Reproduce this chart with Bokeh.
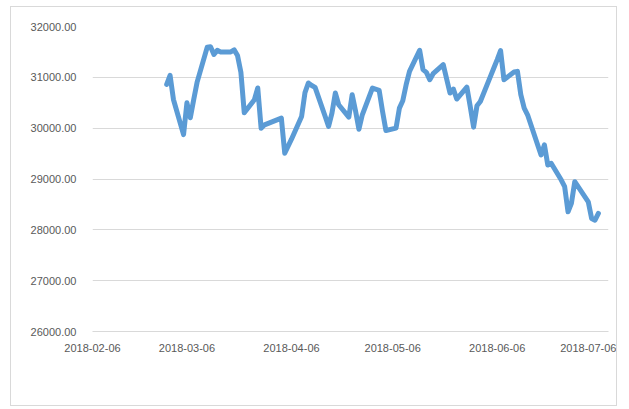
from datetime import datetime
from bokeh.plotting import figure
from bokeh.models import Range1d, FixedTicker, DatetimeTickFormatter, NumeralTickFormatter, ColumnDataSource
from bokeh.embed import file_html
from bokeh.resources import INLINE

dates = [
    "2018-02-28", "2018-03-01", "2018-03-02", "2018-03-05", "2018-03-06", "2018-03-07",
    "2018-03-08", "2018-03-09", "2018-03-12", "2018-03-13", "2018-03-14", "2018-03-15",
    "2018-03-16", "2018-03-19", "2018-03-20", "2018-03-21", "2018-03-22", "2018-03-23",
    "2018-03-26", "2018-03-27", "2018-03-28", "2018-03-29", "2018-04-03", "2018-04-04",
    "2018-04-06", "2018-04-09", "2018-04-10", "2018-04-11", "2018-04-12", "2018-04-13",
    "2018-04-16", "2018-04-17", "2018-04-18", "2018-04-19", "2018-04-20", "2018-04-23",
    "2018-04-24", "2018-04-25", "2018-04-26", "2018-04-27", "2018-04-30", "2018-05-02",
    "2018-05-03", "2018-05-04", "2018-05-07", "2018-05-08", "2018-05-09", "2018-05-10",
    "2018-05-11", "2018-05-14", "2018-05-15", "2018-05-16", "2018-05-17", "2018-05-18",
    "2018-05-21", "2018-05-23", "2018-05-24", "2018-05-25", "2018-05-28", "2018-05-29",
    "2018-05-30", "2018-05-31", "2018-06-01", "2018-06-04", "2018-06-05", "2018-06-06",
    "2018-06-07", "2018-06-08", "2018-06-11", "2018-06-12", "2018-06-13", "2018-06-14",
    "2018-06-15", "2018-06-19", "2018-06-20", "2018-06-21", "2018-06-22", "2018-06-25",
    "2018-06-26", "2018-06-27", "2018-06-28", "2018-06-29", "2018-07-03", "2018-07-04",
    "2018-07-05", "2018-07-06",
]
values = [
    30861, 31039, 30565, 29874, 30500, 30204,
    30560, 30900, 31590, 31600, 31450, 31530,
    31500, 31500, 31540, 31430, 31100, 30302,
    30559, 30790, 30000, 30066, 30197, 29507,
    29783, 30230, 30700, 30889, 30840, 30802,
    30230, 30033, 30296, 30691, 30460, 30217,
    30658, 30336, 29980, 30263, 30790, 30743,
    30329, 29954, 30000, 30395, 30539, 30855,
    31118, 31533, 31151, 31098, 30954, 31072,
    31250, 30691, 30770, 30573, 30809, 30427,
    30020, 30441, 30525, 31019, 31184, 31349,
    31526, 30954, 31105, 31118, 30658, 30395,
    30263, 29473, 29671, 29276, 29309, 28980,
    28848, 28354, 28520, 28947, 28551, 28224,
    28190, 28322,
]
x_ticks = ["2018-02-06", "2018-03-06", "2018-04-06", "2018-05-06", "2018-06-06", "2018-07-06"]
y_ticks = [26000, 27000, 28000, 29000, 30000, 31000, 32000]
x_start, x_end = "2018-02-06", "2018-07-09"
y_start, y_end = 26000, 32000

EPOCH = datetime(1970, 1, 1)
def ms(s):
    return (datetime.strptime(s, "%Y-%m-%d") - EPOCH).total_seconds() * 1000.0

src = ColumnDataSource(data=dict(x=[datetime.strptime(d, "%Y-%m-%d") for d in dates], y=values))

p = figure(width=607, height=400, output_backend="svg", toolbar_location=None,
           x_axis_type="datetime",
           x_range=Range1d(datetime.strptime(x_start, "%Y-%m-%d"), datetime.strptime(x_end, "%Y-%m-%d")),
           y_range=Range1d(y_start, y_end),
           min_border_left=81, min_border_right=10, min_border_top=19, min_border_bottom=76)
p.styles = {"border": "1px solid #D9D9D9", "margin-left": "10px", "margin-top": "6px"}
p.outline_line_color = None
p.background_fill_color = "white"
p.border_fill_color = "white"

p.line("x", "y", source=src, line_color="#5B9BD5", line_width=5, line_join="round", line_cap="round")

grey = "#595959"
font = "Liberation Sans"

p.xaxis.ticker = FixedTicker(ticks=[ms(t) for t in x_ticks])
fmt = "%Y-%m-%d"
p.xaxis.formatter = DatetimeTickFormatter(milliseconds=fmt, seconds=fmt, minsec=fmt, minutes=fmt,
                                          hourmin=fmt, hours=fmt, days=fmt, months=fmt, years=fmt)
p.xaxis.axis_line_color = "#D9D9D9"
p.xaxis.major_tick_line_color = None
p.xaxis.minor_tick_line_color = None
p.xaxis.major_label_standoff = 6
p.xaxis.major_label_text_font = font
p.xaxis.major_label_text_font_size = "11px"
p.xaxis.major_label_text_color = grey

p.yaxis.ticker = FixedTicker(ticks=y_ticks)
p.yaxis.formatter = NumeralTickFormatter(format="0.00")
p.yaxis.axis_line_color = None
p.yaxis.major_tick_line_color = None
p.yaxis.minor_tick_line_color = None
p.yaxis.major_label_standoff = 10
p.yaxis.major_label_text_font = font
p.yaxis.major_label_text_font_size = "11px"
p.yaxis.major_label_text_color = grey

p.xgrid.grid_line_color = None
p.ygrid.ticker = FixedTicker(ticks=y_ticks)
p.ygrid.grid_line_color = "#D9D9D9"
p.ygrid.grid_line_width = 1

open("out.html", "w").write(file_html(p, INLINE))
